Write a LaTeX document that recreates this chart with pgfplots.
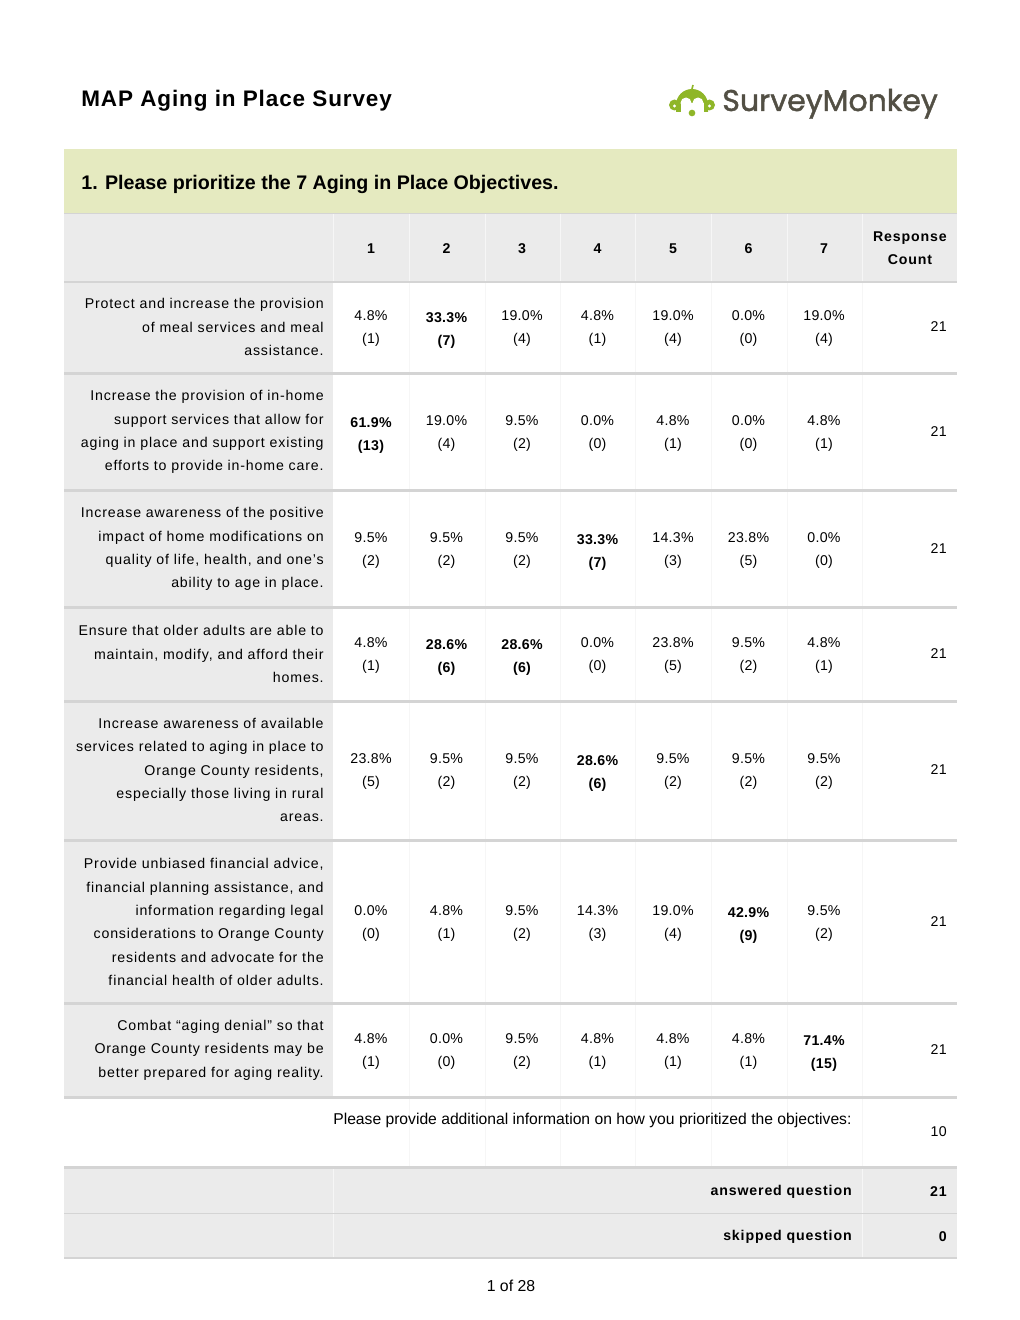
\documentclass[border=0pt]{standalone}
\usepackage{fontspec}
\setmainfont{Liberation Sans}
\newfontfamily\trkL{Liberation Sans}[LetterSpace=6]
\newfontfamily\trkD{Liberation Sans}[LetterSpace=2]
\newfontfamily\trkB{Liberation Sans}[LetterSpace=6]
\newfontfamily\trkT{Liberation Sans}[LetterSpace=4]
\newfontfamily\logofont{Poppins}[FakeBold=1.5]
\usepackage{pgfplots}
\usepackage{pgfplotstable}
\pgfplotsset{compat=1.18}

\definecolor{barGreen}{RGB}{229,234,192}
\definecolor{cellGray}{RGB}{235,235,235}
\definecolor{ruleGray}{RGB}{212,212,212}
\definecolor{sepLight}{RGB}{246,246,246}
\definecolor{smGreen}{RGB}{143,182,40}
\definecolor{smText}{RGB}{82,79,68}

% c = rank column, yc = row centre, pct / n = share and count, b = bold (row maximum)
\pgfplotstableread{
c yc pct n b
1 327 4.8 1 0
2 327 33.3 7 1
3 327 19.0 4 0
4 327 4.8 1 0
5 327 19.0 4 0
6 327 0.0 0 0
7 327 19.0 4 0
1 432 61.9 13 1
2 432 19.0 4 0
3 432 9.5 2 0
4 432 0.0 0 0
5 432 4.8 1 0
6 432 0.0 0 0
7 432 4.8 1 0
1 549 9.5 2 0
2 549 9.5 2 0
3 549 9.5 2 0
4 549 33.3 7 1
5 549 14.3 3 0
6 549 23.8 5 0
7 549 0.0 0 0
1 654 4.8 1 0
2 654 28.6 6 1
3 654 28.6 6 1
4 654 0.0 0 0
5 654 23.8 5 0
6 654 9.5 2 0
7 654 4.8 1 0
1 770 23.8 5 0
2 770 9.5 2 0
3 770 9.5 2 0
4 770 28.6 6 1
5 770 9.5 2 0
6 770 9.5 2 0
7 770 9.5 2 0
1 922 0.0 0 0
2 922 4.8 1 0
3 922 9.5 2 0
4 922 14.3 3 0
5 922 19.0 4 0
6 922 42.9 9 1
7 922 9.5 2 0
1 1050 4.8 1 0
2 1050 0.0 0 0
3 1050 9.5 2 0
4 1050 4.8 1 0
5 1050 4.8 1 0
6 1050 4.8 1 0
7 1050 71.4 15 1
}\cells

\pgfplotstableread{
yc total
327 21
432 21
549 21
654 21
770 21
922 21
1050 21
1132 10
}\totals

\begin{document}
\begin{tikzpicture}
\begin{axis}[
  width=612pt, height=792pt, scale only axis,
  xmin=0, xmax=1020, ymin=0, ymax=1320, y dir=reverse,
  hide axis, clip=false,
]
% page
\fill[white] (axis cs:0,0) rectangle (axis cs:1020,1320);

% header
\node[anchor=base west, inner sep=0pt, font=\trkT\bfseries\fontsize{13.5}{16}\selectfont] at (axis cs:81,107) {MAP Aging in Place Survey};

% logo
\fill[smGreen] (axis cs:676,112) -- (axis cs:676,105) arc[start angle=180, end angle=0, radius=9.6pt] -- (axis cs:708,112) -- cycle;
\fill[white] (axis cs:686,103) circle[radius=3.3pt];
\fill[white] (axis cs:698,103) circle[radius=3.3pt];
\fill[white] (axis cs:680.5,103) rectangle (axis cs:703.5,113);
\fill[smGreen] (axis cs:692,113) circle[radius=2pt];
\fill[smGreen] (axis cs:674.5,105) circle[radius=3.3pt];
\fill[smGreen] (axis cs:709.5,105) circle[radius=3.3pt];
\fill[white] (axis cs:674.5,106) circle[radius=1.0pt];
\fill[white] (axis cs:709.5,106) circle[radius=1.0pt];
\draw[smGreen, line width=1pt] (axis cs:692,89) -- (axis cs:693,85);
\node[anchor=base west, text=smText, font=\logofont\fontsize{18}{20}\selectfont, inner sep=0pt] at (axis cs:722,111) {SurveyMonkey};

% question bar
\fill[barGreen] (axis cs:64,149) rectangle (axis cs:957,213);
\node[anchor=base west, font=\bfseries\fontsize{11.8}{14}\selectfont, inner sep=0pt] at (axis cs:81,189) {1. Please prioritize the 7 Aging in Place Objectives.};

% table backgrounds
\fill[cellGray] (axis cs:64,213) rectangle (axis cs:957,281);
\fill[cellGray] (axis cs:64,281) rectangle (axis cs:333,1098);
\fill[cellGray] (axis cs:64,1168) rectangle (axis cs:957,1258);
\draw[ruleGray, line width=0.6pt] (axis cs:64,213.5) -- (axis cs:957,213.5);
% column separators
\draw[sepLight, line width=0.6pt] (axis cs:409,214) -- (axis cs:409,1166);
\draw[sepLight, line width=0.6pt] (axis cs:485,214) -- (axis cs:485,1166);
\draw[sepLight, line width=0.6pt] (axis cs:560,214) -- (axis cs:560,1166);
\draw[sepLight, line width=0.6pt] (axis cs:635,214) -- (axis cs:635,1166);
\draw[sepLight, line width=0.6pt] (axis cs:711,214) -- (axis cs:711,1166);
\draw[sepLight, line width=0.6pt] (axis cs:787,214) -- (axis cs:787,1166);
\draw[sepLight, line width=0.6pt] (axis cs:862,214) -- (axis cs:862,1258);
\draw[sepLight, line width=0.6pt] (axis cs:333,214) -- (axis cs:333,281);
\draw[sepLight, line width=0.6pt] (axis cs:333,1168) -- (axis cs:333,1258);
% row rules
\draw[ruleGray, line width=1.2pt] (axis cs:64,281.5) -- (axis cs:957,281.5);
\draw[ruleGray, line width=1.8pt] (axis cs:64,373.5) -- (axis cs:957,373.5);
\draw[ruleGray, line width=1.8pt] (axis cs:64,490.5) -- (axis cs:957,490.5);
\draw[ruleGray, line width=1.8pt] (axis cs:64,607.5) -- (axis cs:957,607.5);
\draw[ruleGray, line width=1.8pt] (axis cs:64,701.5) -- (axis cs:957,701.5);
\draw[ruleGray, line width=1.8pt] (axis cs:64,840.5) -- (axis cs:957,840.5);
\draw[ruleGray, line width=1.8pt] (axis cs:64,1003.5) -- (axis cs:957,1003.5);
\draw[ruleGray, line width=1.8pt] (axis cs:64,1097.5) -- (axis cs:957,1097.5);
\draw[ruleGray, line width=1.8pt] (axis cs:64,1167.5) -- (axis cs:957,1167.5);
\draw[ruleGray, line width=0.6pt] (axis cs:64,1213) -- (axis cs:957,1213);
\draw[ruleGray, line width=0.9pt] (axis cs:64,1258) -- (axis cs:957,1258);

% column heads
\node[font=\trkB\bfseries\fontsize{8.5}{14}\selectfont] at (axis cs:371,249) {1};
\node[font=\trkB\bfseries\fontsize{8.5}{14}\selectfont] at (axis cs:446.5,249) {2};
\node[font=\trkB\bfseries\fontsize{8.5}{14}\selectfont] at (axis cs:522,249) {3};
\node[font=\trkB\bfseries\fontsize{8.5}{14}\selectfont] at (axis cs:597.5,249) {4};
\node[font=\trkB\bfseries\fontsize{8.5}{14}\selectfont] at (axis cs:673,249) {5};
\node[font=\trkB\bfseries\fontsize{8.5}{14}\selectfont] at (axis cs:748.5,249) {6};
\node[font=\trkB\bfseries\fontsize{8.5}{14}\selectfont] at (axis cs:824,249) {7};
\node[align=center, font=\trkB\bfseries\fontsize{8.5}{13.8}\selectfont] at (axis cs:910,248.5) {Response\\Count};

% row labels
\node[anchor=east, align=right, inner sep=0pt, font=\trkL\fontsize{8.5}{14}\selectfont] at (axis cs:324,327) {Protect and increase the provision\\of meal services and meal\\assistance.};
\node[anchor=east, align=right, inner sep=0pt, font=\trkL\fontsize{8.5}{14}\selectfont] at (axis cs:324,432) {Increase the provision of in-home\\support services that allow for\\aging in place and support existing\\efforts to provide in-home care.};
\node[anchor=east, align=right, inner sep=0pt, font=\trkL\fontsize{8.5}{14}\selectfont] at (axis cs:324,549) {Increase awareness of the positive\\impact of home modifications on\\quality of life, health, and one’s\\ability to age in place.};
\node[anchor=east, align=right, inner sep=0pt, font=\trkL\fontsize{8.5}{14}\selectfont] at (axis cs:324,654) {Ensure that older adults are able to\\maintain, modify, and afford their\\homes.};
\node[anchor=east, align=right, inner sep=0pt, font=\trkL\fontsize{8.5}{14}\selectfont] at (axis cs:324,770) {Increase awareness of available\\services related to aging in place to\\Orange County residents,\\especially those living in rural\\areas.};
\node[anchor=east, align=right, inner sep=0pt, font=\trkL\fontsize{8.5}{14}\selectfont] at (axis cs:324,922) {Provide unbiased financial advice,\\financial planning assistance, and\\information regarding legal\\considerations to Orange County\\residents and advocate for the\\financial health of older adults.};
\node[anchor=east, align=right, inner sep=0pt, font=\trkL\fontsize{8.5}{14}\selectfont] at (axis cs:324,1050) {Combat “aging denial” so that\\Orange County residents may be\\better prepared for aging reality.};

% cells, regular
\addplot[draw=none, mark=none, point meta=explicit symbolic,
  restrict expr to domain={\thisrow{b}}{0:0},
  visualization depends on={\thisrow{n}\as\cnt},
  nodes near coords={\pgfplotspointmeta\%\\(\pgfmathprintnumber[fixed,precision=0,assume math mode=true]{\cnt})},
  every node near coord/.append style={anchor=center, align=center, inner sep=0pt,
    font=\trkD\fontsize{8.5}{13.8}\selectfont, yshift=-1.2pt},
] table[x expr={371+(\thisrow{c}-1)*75.5}, y=yc, meta=pct] {\cells};
% cells, row maximum in bold
\addplot[draw=none, mark=none, point meta=explicit symbolic,
  restrict expr to domain={\thisrow{b}}{1:1},
  visualization depends on={\thisrow{n}\as\cnt},
  nodes near coords={\pgfplotspointmeta\%\\(\pgfmathprintnumber[fixed,precision=0,assume math mode=true]{\cnt})},
  every node near coord/.append style={anchor=center, align=center, inner sep=0pt,
    font=\trkD\bfseries\fontsize{8.5}{13.8}\selectfont, yshift=-2.2pt},
] table[x expr={371+(\thisrow{c}-1)*75.5}, y=yc, meta=pct] {\cells};

% response counts
\addplot[draw=none, mark=none, point meta=explicit symbolic,
  nodes near coords={\pgfplotspointmeta},
  every node near coord/.append style={anchor=east, inner sep=0pt,
    font=\trkD\fontsize{8.5}{13.8}\selectfont},
] table[x expr=947, y=yc, meta=total] {\totals};

% additional info
\node[anchor=base west, inner sep=0pt, font=\fontsize{9.4}{12}\selectfont] at (axis cs:333,1124) {Please provide additional information on how you prioritized the objectives:};

% summary
\node[anchor=east, inner sep=0pt, font=\trkB\bfseries\fontsize{8.5}{12}\selectfont] at (axis cs:852,1192) {answered question};
\node[anchor=east, inner sep=0pt, font=\trkB\bfseries\fontsize{8.5}{12}\selectfont] at (axis cs:947,1192) {21};
\node[anchor=east, inner sep=0pt, font=\trkB\bfseries\fontsize{8.5}{12}\selectfont] at (axis cs:852,1237) {skipped question};
\node[anchor=east, inner sep=0pt, font=\trkB\bfseries\fontsize{8.5}{12}\selectfont] at (axis cs:947,1237) {0};

\node[font=\fontsize{9.5}{12}\selectfont] at (axis cs:511,1286) {1 of 28};
\end{axis}
\end{tikzpicture}
\end{document}
